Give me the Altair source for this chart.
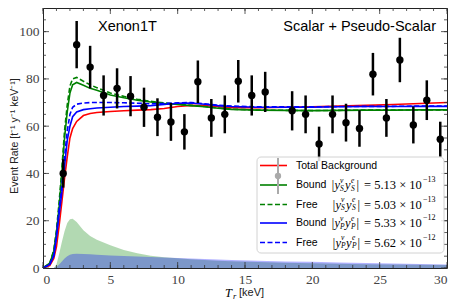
import altair as alt
import pandas as pd

# ---------------- data ----------------
T = [0, 0.5, 0.8, 1.0, 1.2, 1.4, 1.6, 1.8, 2.0, 2.2, 2.5, 3.0, 3.5, 4, 5, 6, 7, 8, 9, 10,
     11, 12, 13, 14, 16, 18, 20, 22, 24, 26, 28, 30]

background = [0, 1, 4, 9, 18, 28, 38, 47, 55, 59, 62, 64.5, 65.4, 65.8, 66.2, 66.5, 66.8, 67, 67.5, 68.3,
              68.8, 68.7, 68.2, 67.8, 67.8, 68, 68.2, 68.5, 68.8, 69.2, 69.6, 70]
bound_s = [0, 2, 7, 15, 26, 40, 55, 66, 74, 77.5, 78.5, 77.3, 76, 75.2, 73.2, 72, 71, 70.2, 69.6, 69.2,
           68.7, 68.2, 67.6, 67.1, 66.8, 66.7, 66.6, 66.7, 66.8, 66.8, 66.9, 66.9]
free_s = [0, 2, 7.5, 16, 28, 42, 58, 69, 77, 80, 80.6, 79, 77.5, 76.3, 74, 72.6, 71.4, 70.5, 69.8, 69.3,
          68.8, 68.3, 67.7, 67.2, 66.8, 66.7, 66.6, 66.7, 66.8, 66.8, 66.9, 66.9]
bound_p = [0, 1.5, 5, 13, 23, 32, 43, 54, 60, 64, 66, 67, 67.4, 67.7, 68, 68.3, 68.5, 68.7, 69.2, 69.7,
           69.8, 69.3, 68.7, 68.3, 68, 68, 68, 68.2, 68.3, 68.3, 68.4, 68.4]
free_p = [0, 1.5, 5.5, 14, 25, 35, 47, 58, 65, 68, 69.3, 69.8, 70, 70, 70, 69.9, 69.7, 69.5, 69.6, 69.9,
          70, 69.5, 68.9, 68.5, 68.2, 68.2, 68.2, 68.3, 68.4, 68.4, 68.5, 68.5]

signal_s = [0, 0, 0, 1.5, 6, 11, 15.5, 19, 20.6, 20.8, 19.5, 16, 13.5, 12, 9.6, 7.6, 6.2, 5.2, 4.6, 4.1,
            3.7, 3.4, 3.1, 2.9, 2.5, 2.2, 2.0, 1.8, 1.6, 1.5, 1.35, 1.25]
signal_p = [0, 0, 0, 0.5, 1.5, 2.8, 4, 5, 5.6, 5.9, 6.0, 5.9, 5.8, 5.6, 5.3, 5.1, 4.9, 4.7, 4.4, 4.2,
            4.0, 3.8, 3.6, 3.4, 3.1, 2.8, 2.6, 2.3, 2.1, 1.9, 1.7, 1.5]

data_T = [1.5, 2.5, 3.5, 4.5, 5.5, 6.5, 7.5, 8.5, 9.5, 10.5, 11.5, 12.5, 13.5, 14.5, 15.5, 16.5,
          18.5, 19.5, 20.5, 21.5, 22.5, 23.5, 24.5, 25.5, 26.5, 27.5, 28.5, 29.5]
data_rate = [40, 94.5, 85, 73, 76, 72.7, 68, 63.8, 61.8, 57.6, 78.8, 63.5, 65, 79, 73, 74.5,
             66.5, 65, 52.5, 65, 61.5, 59, 82, 63.5, 88, 60.5, 71, 54.5]
data_err = [6, 10, 9, 8.5, 8.5, 8.5, 8.3, 8, 8, 7.5, 9, 8, 8, 9, 8.5, 8.5,
            8.3, 8, 7.3, 8, 8, 7.7, 9, 8, 9.4, 7.8, 8.4, 7.4]

x_major = [0, 5, 10, 15, 20, 25, 30]
x_minor = list(range(0, 31))
y_major = [0, 20, 40, 60, 80, 100]
y_minor = list(range(0, 111, 5))

W, H = 404, 260

curves = pd.DataFrame({"T": T, "bg": background, "bs": bound_s, "fs": free_s,
                       "bp": bound_p, "fp": free_p, "ss": signal_s, "sp": signal_p})
pts = pd.DataFrame({"T": data_T, "rate": data_rate, "err": data_err})
pts["lo"] = pts["rate"] - pts["err"]
pts["hi"] = pts["rate"] + pts["err"]

SERIF = "Liberation Serif"
SANS = "Liberation Sans"

xscale = alt.Scale(domain=[0, 30], nice=False, zero=False)
yscale = alt.Scale(domain=[0, 110], nice=False, zero=False)
xaxis = alt.Axis(values=x_major, ticks=False, domain=False, grid=False, title=None,
                 labelFont=SERIF, labelFontSize=13.5, labelColor="#444", labelPadding=4)
yaxis = alt.Axis(values=y_major, ticks=False, domain=False, grid=False, title=None,
                 labelFont=SERIF, labelFontSize=13.5, labelColor="#444", labelPadding=4)


def X(f):
    return alt.X(f, type="quantitative", scale=xscale, axis=xaxis)


def Y(f):
    return alt.Y(f, type="quantitative", scale=yscale, axis=yaxis)


base = alt.Chart(curves)

area_s = base.mark_area(color="#008000", opacity=0.3).encode(x=X("T"), y=Y("ss"))
area_p = base.mark_area(color="#0000ff", opacity=0.3).encode(x=X("T"), y=Y("sp"))


def line(field, color, dash=None):
    kw = dict(color=color, strokeWidth=1.6)
    if dash:
        kw["strokeDash"] = dash
    return base.mark_line(**kw).encode(x=X("T"), y=Y(field))


l_bg = line("bg", "#ff0000")
l_bs = line("bs", "#008000")
l_fs = line("fs", "#008000", [5, 2.5])
l_bp = line("bp", "#0000ff")
l_fp = line("fp", "#0000ff", [5, 2.5])

pbase = alt.Chart(pts)
ebars = pbase.mark_rule(color="black", strokeWidth=2.5).encode(x=X("T"), y=Y("lo"), y2="hi")
dots = pbase.mark_circle(color="black", opacity=1, size=55).encode(x=X("T"), y=Y("rate"))


# inward ticks (mirrored on all four sides)
def xticks(vals, L):
    d = alt.Chart(pd.DataFrame({"t": vals}))
    b = d.mark_rule(color="#333", strokeWidth=0.8).encode(x=X("t"), y=alt.value(H), y2=alt.value(H - L))
    t = d.mark_rule(color="#333", strokeWidth=0.8).encode(x=X("t"), y=alt.value(0), y2=alt.value(L))
    return [b, t]


def yticks(vals, L):
    d = alt.Chart(pd.DataFrame({"t": vals}))
    l = d.mark_rule(color="#333", strokeWidth=0.8).encode(y=Y("t"), x=alt.value(0), x2=alt.value(L))
    r = d.mark_rule(color="#333", strokeWidth=0.8).encode(y=Y("t"), x=alt.value(W), x2=alt.value(W - L))
    return [l, r]


ticks = xticks(x_major, 6) + xticks(x_minor, 3) + yticks(y_major, 6) + yticks(y_minor, 3)

one = pd.DataFrame({"a": [0]})


def txt(s, x, y, size, font=SANS, align="left", color="black", angle=None, style=None, baseline="middle"):
    kw = dict(fontSize=size, font=font, align=align, baseline=baseline, color=color)
    if angle is not None:
        kw["angle"] = angle
    if style:
        kw["fontStyle"] = style
    return alt.Chart(one).mark_text(**kw).encode(x=alt.value(x), y=alt.value(y), text=alt.value(s))


def hline(x1, x2, y, color, dash=None):
    kw = dict(color=color, strokeWidth=1.6)
    if dash:
        kw["strokeDash"] = dash
    return alt.Chart(one).mark_rule(**kw).encode(x=alt.value(x1), x2=alt.value(x2), y=alt.value(y))


annots = [
    txt("Xenon1T", 55, 19, 14.5),
    txt("Scalar + Pseudo-Scalar", 393, 19, 14.5, align="right"),
    txt("Event Rate [t⁻¹ y⁻¹ keV⁻¹]", -28, 128, 10.5, angle=270, align="center", color="#222"),
    txt("T", 182, H + 25, 12.5, font=SERIF, style="italic"),
    txt("r", 190, H + 27.5, 8.5, font=SERIF, style="italic"),
    txt("[keV]", 196, H + 25, 11, color="#222"),
]

# legend (positioned from the bottom of the plot, like a lower-right legend)
box = alt.Chart(one).mark_rect(fill="white", opacity=0.85, stroke="#cccccc", strokeWidth=1,
                               cornerRadius=4).encode(
    x=alt.value(214), x2=alt.value(401), y=alt.value(H - 111), y2=alt.value(H - 15))

rows = [H - 102.5, H - 83, H - 63.5, H - 45, H - 25.5]
lx1, lx2, tx = 217, 244, 253
legend = [box,
          hline(lx1, lx2, rows[0], "#ff0000"),
          hline(lx1, lx2, rows[1], "#008000"),
          hline(lx1, lx2, rows[2], "#008000", [5, 2.5]),
          hline(lx1, lx2, rows[3], "#0000ff"),
          hline(lx1, lx2, rows[4], "#0000ff", [5, 2.5]),
          alt.Chart(one).mark_rule(color="#aaaaaa", strokeWidth=2).encode(
              x=alt.value(235), y=alt.value(H - 110), y2=alt.value(H - 74)),
          alt.Chart(one).mark_circle(color="#aaaaaa", opacity=1, size=40).encode(
              x=alt.value(235), y=alt.value(H - 92)),
          txt("Total Background", tx, rows[0], 10.5)]

math_rows = [("Bound", "S", "ν", "e", "5.13", "−13"),
             ("Free", "S", "ν", "e", "5.03", "−13"),
             ("Bound", "P", "ν", "e", "5.33", "−12"),
             ("Free", "P", "ν", "e", "5.62", "−12")]
for i, (lab, sub, s1, s2, val, ex) in enumerate(math_rows):
    yy = rows[i + 1]
    mx = 288 if lab == "Bound" else 289
    legend += [
        txt(lab, tx, yy, 10.5),
        txt("|y", mx, yy, 12.5, font=SERIF, style="italic"),
        txt(s1, mx + 9, yy - 4.5, 7.5, font=SERIF, style="italic"),
        txt(sub, mx + 9, yy + 3.5, 7.5, font=SERIF, style="italic"),
        txt("y", mx + 14, yy, 12.5, font=SERIF, style="italic"),
        txt(s2, mx + 20, yy - 4.5, 7.5, font=SERIF, style="italic"),
        txt(sub, mx + 20, yy + 3.5, 7.5, font=SERIF, style="italic"),
        txt("|", mx + 25.5, yy, 12.5, font=SERIF),
        txt("= " + val + " × 10", 321, yy, 12.5, font=SERIF),
        txt(ex, 380, yy - 5, 8, font=SERIF),
    ]

chart = alt.layer(
    area_s, area_p, l_bg, l_bs, l_fs, l_bp, l_fp, ebars, dots, *ticks, *annots, *legend
).properties(
    width=W, height=H,
    autosize=alt.AutoSizeParams(type="none"),
    padding={"left": 35, "top": 0, "right": 3, "bottom": 34},
).configure_view(stroke="#222", strokeWidth=1)

chart.save("out.html", embed_options={"renderer": "svg", "actions": False})
